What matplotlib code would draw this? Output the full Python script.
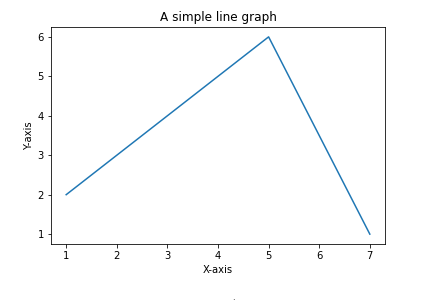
import matplotlib
matplotlib.use('Agg')
import matplotlib.pyplot as plt

# data
x = [1, 5, 7]
y = [2, 6, 1]

fig = plt.figure(figsize=(435 / 72, 305 / 72), dpi=72)
ax = fig.add_axes([51 / 435, 1 - 244 / 305, (385 - 51) / 435, (244 - 27) / 305])

ax.plot(x, y)
ax.set_xlabel('X-axis')
ax.set_ylabel('Y-axis')
ax.set_title('A simple line graph')

# stray dot below the plot
fig.text(233 / 435, 1 - 300 / 305, '.', ha='center', va='baseline', fontsize=8)

fig.savefig('out.png', dpi=72)
